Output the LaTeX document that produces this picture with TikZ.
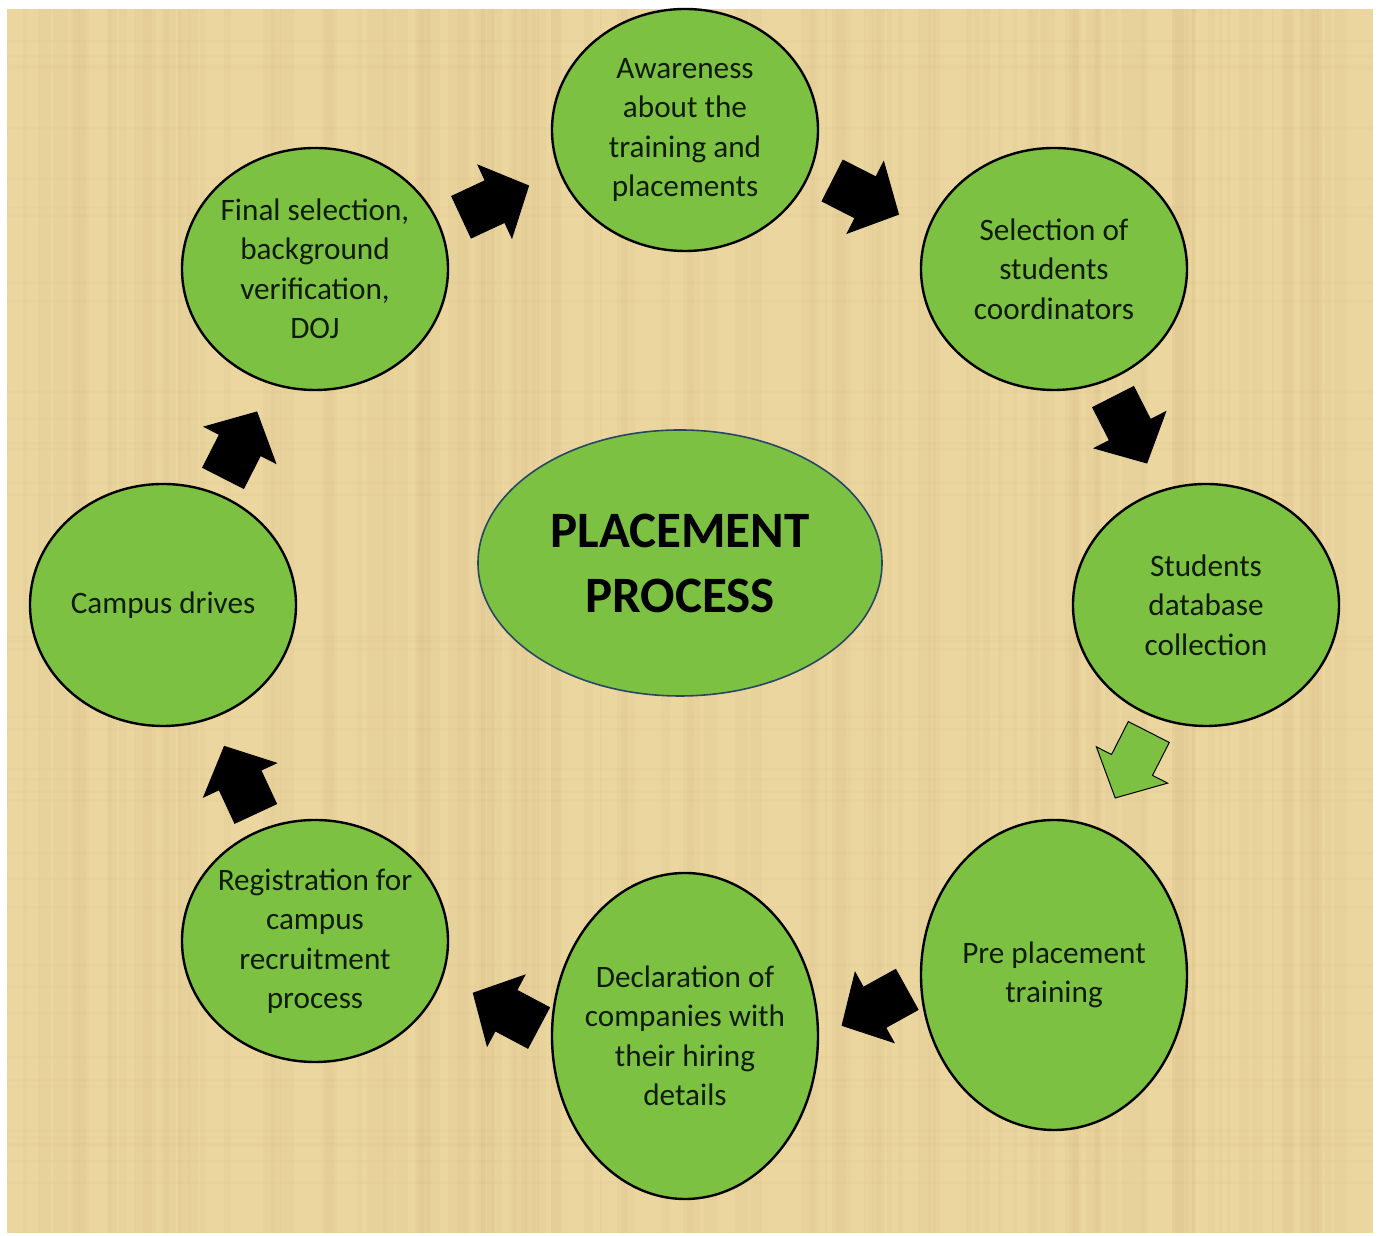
\documentclass[tikz,border=0pt]{standalone}
\usepackage{fontspec}
\setmainfont{Carlito}
\usetikzlibrary{shapes.geometric,calc}

\definecolor{paper}{RGB}{235,214,160}
\definecolor{paperdark}{RGB}{196,166,104}
\definecolor{leaf}{RGB}{124,193,66}
\definecolor{ink}{RGB}{16,28,8}
\definecolor{rim}{RGB}{40,70,100}

\tikzset{
  stage/.style={ellipse, draw=black, line width=1.2pt, fill=leaf, text=ink,
    minimum width=133pt, minimum height=121pt, inner sep=-6pt, align=center,
    font=\fontsize{15.6}{19.75}\selectfont},
  hub/.style={ellipse, draw=rim, line width=0.8pt, fill=leaf, inner sep=0pt,
    minimum width=202pt, minimum height=133pt, align=center,
    font=\fontsize{25.5}{32.5}\selectfont\bfseries},
  blockarrow/.pic={
    \filldraw[fill=#1, draw=black, line width=0.5pt]
      (-37,-23) -- (0,-23) -- (0,-40) -- (37,0) -- (0,40) -- (0,23) -- (-37,23) -- cycle;
  }
}

\begin{document}
\begin{tikzpicture}[x=0.5pt, y=0.5pt]
        \fill[white] (0,0) rectangle (1378,1236);
        \useasboundingbox (0,0) rectangle (1378,1236);
        % paper background
        \fill[paper] (7,3) rectangle (1373,1227);
        \pgfmathsetseed{12}
        \foreach \i in {1,...,120}{
          \pgfmathsetmacro{\xx}{8+rnd*1350}
          \pgfmathsetmacro{\ww}{2+rnd*12}
          \fill[paperdark, opacity=0.07] (\xx,3) rectangle ++(\ww,1224);
        }
        \foreach \i in {1,...,40}{
          \pgfmathsetmacro{\yy}{4+rnd*1210}
          \fill[paperdark, opacity=0.05] (7,\yy) rectangle ++(1366,3);
        }

        \node[hub] (hub) at (680,673) {PLACEMENT\\PROCESS};

        \node[stage] (aware) at (685,1106) {Awareness\\about the\\training and\\placements};
        \node[stage] (select) at (1054,967) {Selection of\\students\\coordinators};
        \node[stage] (students) at (1206,631) {Students\\database\\collection};
        \node[stage, minimum height=155pt] (pre) at (1054,261) {Pre placement\\training};
        \node[stage, minimum height=163pt] (decl) at (685,200) {Declaration of\\companies with\\their hiring\\details};
        \node[stage] (reg) at (315,295) {Registration for\\campus\\recruitment\\process};
        \node[stage] (campus) at (163,631) {Campus drives};
        \node[stage] (final) at (315,967) {Final selection,\\background\\verification,\\DOJ};

        % block arrows between the stages
        \foreach \src/\dst/\dx/\dy/\ang/\col in {
            final/aware/-5/-2/25/black, aware/select/-4/2/-27/black,
            select/students/0/7/-63/black, students/pre/2/25/-117/leaf,
            pre/decl/5/-2/-151/black, decl/reg/6/-22/152/black,
            reg/campus/1/-7/115/black, campus/final/1/-8/63/black}{
          \pic[rotate=\ang] at ($(\src)!0.5!(\dst)+(\dx,\dy)$) {blockarrow=\col};
        }
\end{tikzpicture}
\end{document}
